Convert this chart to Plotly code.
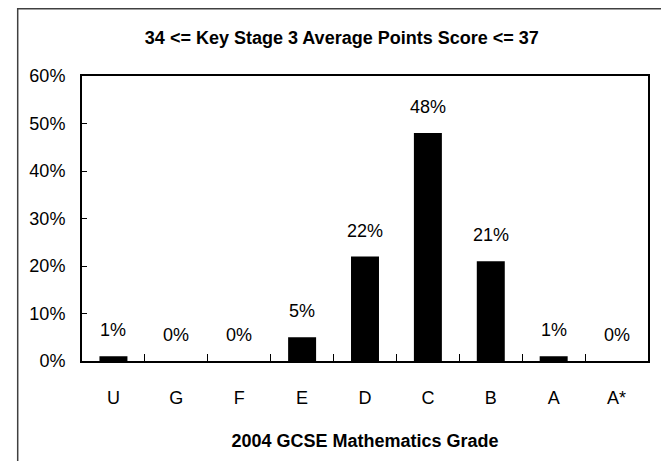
import plotly.graph_objects as go

grades = ["U", "G", "F", "E", "D", "C", "B", "A", "A*"]
share = [0.01, 0.0, 0.0, 0.05, 0.22, 0.48, 0.21, 0.01, 0.0]
y_ticks = [0, 0.1, 0.2, 0.3, 0.4, 0.5, 0.6]

font_family = "Liberation Sans, Arial, sans-serif"

fig = go.Figure(
    go.Bar(
        x=grades,
        y=share,
        marker=dict(color="black", line=dict(width=0)),
        hoverinfo="skip",
    )
)

# percentage labels above each bar
for g, v in zip(grades, share):
    fig.add_annotation(
        x=g, y=v, text=f"{v:.0%}", showarrow=False,
        yanchor="bottom", yshift=14,
        font=dict(size=18, color="black", family=font_family),
    )

# the page body has an 8px margin, so the figure is 8px smaller than the window
fig.update_layout(
    width=661,
    height=453,
    margin=dict(l=74, r=21, t=68, b=100),
    paper_bgcolor="white",
    plot_bgcolor="white",
    bargap=0.555,
    showlegend=False,
    font=dict(family=font_family, color="black", size=18),
    title=dict(
        text="<b>34 <= Key Stage 3 Average Points Score <= 37</b>",
        x=0.505, xanchor="center", y=0.935, yanchor="middle",
        font=dict(size=18, family=font_family),
    ),
)

fig.update_xaxes(
    title=dict(text="<b>2004 GCSE Mathematics Grade</b>", font=dict(size=18), standoff=28),
    showline=True, linecolor="black", linewidth=2, mirror=True,
    ticks="inside", ticklen=7, tickcolor="black", tickwidth=1,
    tickson="boundaries", ticklabelstandoff=19,
    showgrid=False,
)
fig.update_yaxes(
    range=[0, 0.6],
    tickvals=y_ticks,
    tickformat=".0%",
    showline=True, linecolor="black", linewidth=2, mirror=True,
    ticks="inside", ticklen=5, tickcolor="black", tickwidth=1,
    ticklabelstandoff=11,
    showgrid=False, zeroline=False,
)

# outer chart border
fig.add_shape(
    type="rect", xref="paper", yref="paper",
    x0=-0.1136, x1=1.0353, y0=-0.5, y1=1.236,
    line=dict(color="#404040", width=1.5), layer="below",
)

fig.write_html("out.html")
